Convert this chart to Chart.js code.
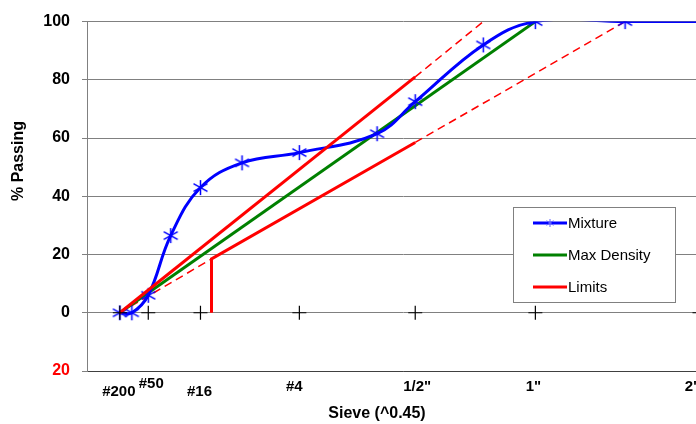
<!DOCTYPE html>
<html>
<head>
<meta charset="utf-8">
<script src="https://cdn.jsdelivr.net/npm/chart.js@4.4.1/dist/chart.umd.min.js"></script>
<style>
  html, body { margin: 0; padding: 0; background: #fff; overflow: hidden; }
</style>
</head>
<body>
<canvas id="myChart" width="719" height="424"></canvas>
<script>
// sieve axis (sizes in mm, plotted as size^0.45)
const sieveLabels = ['#200', '#50', '#16', '#4', '1/2"', '1"', '2"'];
const sieveSizes = [0.075, 0.3, 1.18, 4.75, 12.5, 25, 50];
const labelOffsets = [5, -3, 5, 0, 0, 0, 0];
const labelShifts = [-1, 3, -1, -5, 2, -2, -7];

const mixtureSizes = [0.075, 0.15, 0.3, 0.6, 1.18, 2.36, 4.75, 9.5, 12.5, 19, 25, 37.5, 50];
const mixturePassing = [0, 0, 6, 26.5, 43, 51.5, 55, 61.5, 72.5, 92, 100, 100, 100];

const maxDensitySizes = [0.075, 25];
const maxDensityPassing = [0, 100];

const upperLimitSizes = [0.075, 12.5];
const upperLimitPassing = [0, 81];
const upperDashSizes = [12.5, 19];
const upperDashPassing = [81, 100];

const lowerLimitSizes = [1.45, 1.45, 12.5];
const lowerLimitPassing = [0, 18.5, 58.5];
const lowerDashSizesA = [0.075, 1.45];
const lowerDashPassingA = [0, 18.5];
const lowerDashSizesB = [12.5, 37.5];
const lowerDashPassingB = [58.5, 100];

const yTicks = [-20, 0, 20, 40, 60, 80, 100];

const FONT = '"Liberation Sans", Arial, sans-serif';

function pow45(s) {
  return Math.pow(s, 0.45);
}

function toPoints(sizes, values) {
  return sizes.map(function (s, i) { return { x: pow45(s), y: values[i] }; });
}

function starMarker(size, color, lw) {
  const c = document.createElement('canvas');
  c.width = size;
  c.height = size;
  const g = c.getContext('2d');
  const m = size / 2;
  g.strokeStyle = color;
  g.lineWidth = lw;
  g.beginPath();
  g.moveTo(m, 1); g.lineTo(m, size - 1);
  g.moveTo(1.5, size * 0.27); g.lineTo(size - 1.5, size * 0.73);
  g.moveTo(1.5, size * 0.73); g.lineTo(size - 1.5, size * 0.27);
  g.stroke();
  return c;
}

const bigStar = starMarker(17, '#0000ff', 1.5);
const smallStar = starMarker(10, '#6060ff', 1);

const labelsPlugin = {
  id: 'labelsPlugin',
  afterDraw: function (chart) {
    const ctx = chart.ctx;
    const xs = chart.scales.x;
    ctx.save();
    ctx.fillStyle = '#000';
    ctx.font = 'bold 15px ' + FONT;
    ctx.textAlign = 'center';
    ctx.textBaseline = 'middle';
    sieveLabels.forEach(function (lab, i) {
      ctx.fillText(lab, xs.getPixelForValue(pow45(sieveSizes[i])) + labelShifts[i], 387 + labelOffsets[i]);
    });
    ctx.font = 'bold 16px ' + FONT;
    ctx.fillText('Sieve (^0.45)', 377, 414);
    ctx.translate(19, 161);
    ctx.rotate(-Math.PI / 2);
    ctx.fillText('% Passing', 0, 0);
    ctx.restore();

    // legend box
    ctx.save();
    ctx.fillStyle = '#fff';
    ctx.fillRect(513, 207, 162, 95);
    ctx.strokeStyle = '#808080';
    ctx.lineWidth = 1;
    ctx.strokeRect(513.5, 207.5, 162, 95);
    const items = [
      { text: 'Mixture', color: '#0000ff', y: 223 },
      { text: 'Max Density', color: '#008000', y: 255 },
      { text: 'Limits', color: '#ff0000', y: 287 }
    ];
    ctx.font = '15px ' + FONT;
    ctx.textBaseline = 'middle';
    items.forEach(function (it) {
      ctx.strokeStyle = it.color;
      ctx.lineWidth = 3;
      ctx.beginPath();
      ctx.moveTo(533, it.y);
      ctx.lineTo(567, it.y);
      ctx.stroke();
      ctx.fillStyle = '#000';
      ctx.fillText(it.text, 568, it.y + 1);
    });
    ctx.drawImage(smallStar, 545, 218);
    ctx.restore();
  }
};

const ctx = document.getElementById('myChart').getContext('2d');
const chart = new Chart(ctx, {
  type: 'scatter',
  data: {
    datasets: [
      {
        label: 'Sieves',
        data: sieveSizes.map(function (s) { return { x: pow45(s), y: 0 }; }),
        pointStyle: 'cross',
        pointRadius: 7,
        borderColor: '#000',
        borderWidth: 1.2,
        showLine: false,
        order: 0
      },
      {
        label: 'Mixture',
        data: toPoints(mixtureSizes, mixturePassing),
        showLine: true,
        borderColor: '#0000ff',
        borderWidth: 3,
        tension: 0.4,
        capBezierPoints: false,
        pointStyle: bigStar,
        pointRadius: mixtureSizes.map(function (s, i) { return i === mixtureSizes.length - 1 ? 0 : 8; }),
        order: 2
      },
      {
        label: 'Max Density',
        data: toPoints(maxDensitySizes, maxDensityPassing),
        showLine: true,
        borderColor: '#008000',
        borderWidth: 3,
        pointRadius: 0,
        order: 3
      },
      {
        label: 'Limits',
        data: toPoints(upperLimitSizes, upperLimitPassing),
        showLine: true,
        borderColor: '#ff0000',
        borderWidth: 3,
        pointRadius: 0,
        order: 1
      },
      {
        label: 'Limits lower',
        data: toPoints(lowerLimitSizes, lowerLimitPassing),
        showLine: true,
        borderColor: '#ff0000',
        borderWidth: 3,
        pointRadius: 0,
        order: 1
      },
      {
        label: 'Upper dash',
        data: toPoints(upperDashSizes, upperDashPassing),
        showLine: true,
        borderColor: '#ff0000',
        borderWidth: 1.5,
        borderDash: [8, 5],
        pointRadius: 0,
        order: 4
      },
      {
        label: 'Lower dash A',
        data: toPoints(lowerDashSizesA, lowerDashPassingA),
        showLine: true,
        borderColor: '#ff0000',
        borderWidth: 1.5,
        borderDash: [8, 5],
        pointRadius: 0,
        order: 4
      },
      {
        label: 'Lower dash B',
        data: toPoints(lowerDashSizesB, lowerDashPassingB),
        showLine: true,
        borderColor: '#ff0000',
        borderWidth: 1.5,
        borderDash: [8, 5],
        pointRadius: 0,
        order: 4
      }
    ]
  },
  options: {
    responsive: false,
    animation: false,
    layout: { autoPadding: false, padding: { top: 21, left: 0, right: 0, bottom: 0 } },
    plugins: {
      legend: { display: false },
      tooltip: { enabled: false }
    },
    scales: {
      x: {
        type: 'linear',
        min: 0,
        max: 6,
        grid: { display: false },
        border: { display: true, color: '#404040', width: 1 },
        ticks: { display: false },
        afterFit: function (scale) { scale.height = 53; }
      },
      y: {
        min: -20,
        max: 100,
        afterBuildTicks: function (scale) {
          scale.ticks = yTicks.map(function (v) { return { value: v }; });
        },
        grid: { color: '#808080', lineWidth: 1, tickLength: 5 },
        border: { display: true, color: '#808080', width: 1 },
        ticks: {
          padding: 12,
          font: { family: FONT, size: 16, weight: 'bold' },
          color: function (c) { return c.tick && c.tick.value < 0 ? '#ff0000' : '#000'; },
          callback: function (v) { return Math.abs(v); }
        },
        afterFit: function (scale) { scale.width = 87; }
      }
    }
  },
  plugins: [labelsPlugin]
});
</script>
</body>
</html>
